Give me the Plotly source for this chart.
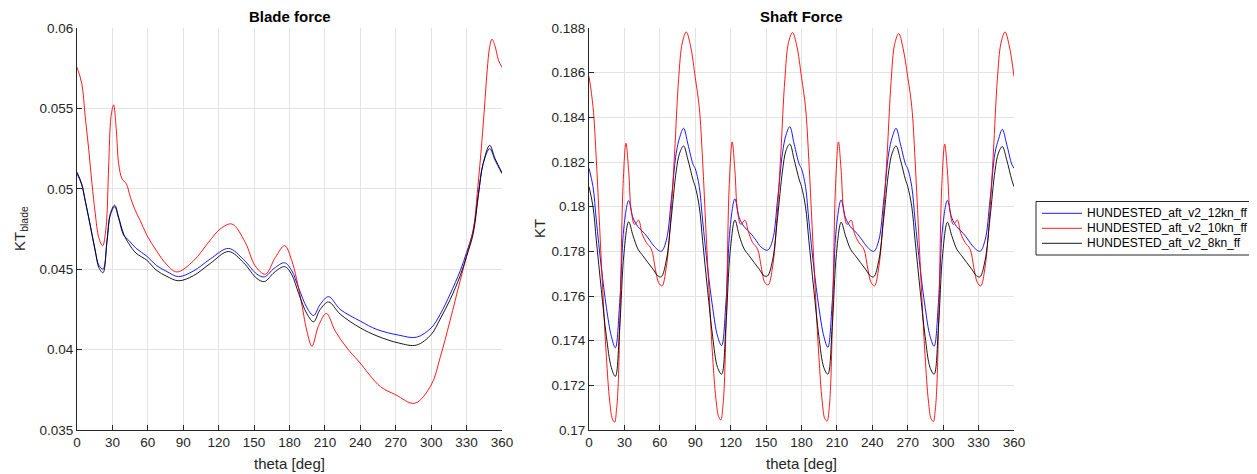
import plotly.graph_objects as go

# ---------------- data ----------------
series_names = ["HUNDESTED_aft_v2_12kn_ff", "HUNDESTED_aft_v2_10kn_ff", "HUNDESTED_aft_v2_8kn_ff"]
x_ticks = [0, 30, 60, 90, 120, 150, 180, 210, 240, 270, 300, 330, 360]
blade_y_ticks = [0.035, 0.04, 0.045, 0.05, 0.055, 0.06]
blade_y_ticktext = ["0.035", "0.04", "0.045", "0.05", "0.055", "0.06"]
shaft_y_ticks = [0.17, 0.172, 0.174, 0.176, 0.178, 0.18, 0.182, 0.184, 0.186, 0.188]
shaft_y_ticktext = ["0.17", "0.172", "0.174", "0.176", "0.178", "0.18", "0.182", "0.184", "0.186", "0.188"]

# Blade force
blade_theta_12kn = [0, 4, 7, 9.9, 12.7, 15.5, 18.5, 22, 25.4, 28.2, 31.9, 35.3, 39.5, 43.8, 50, 59.3, 67, 76.2, 86, 98.7,
                    112.8, 128.4, 141.1, 152.4, 158.7, 167.1, 175.9, 182, 187.7, 194.8, 200.4, 206, 213.1, 223, 240,
                    254.1, 272.5, 287.5, 300, 307.6, 316, 324.6, 330, 335.6, 340, 344, 349.6, 354, 360]
blade_kt_12kn = [0.05094, 0.05025, 0.04922, 0.04818, 0.04714, 0.0461, 0.04525, 0.0450, 0.04672, 0.04835,
                 0.04888, 0.04815, 0.04712, 0.0468, 0.0463, 0.0458, 0.04525, 0.04485, 0.04454, 0.04489,
                 0.04563, 0.04629, 0.0456, 0.04469, 0.04452, 0.04506, 0.0454, 0.0449, 0.04385, 0.0426,
                 0.04212, 0.04281, 0.04329, 0.0425, 0.04177, 0.04125, 0.0409, 0.04077, 0.04135, 0.04219,
                 0.04344, 0.0449, 0.04604, 0.0474, 0.0497, 0.05156, 0.0525, 0.0518, 0.05094]

blade_theta_10kn = [0, 4, 7, 10, 12.7, 15.5, 18.4, 21.7, 24.6, 26.8, 28.8, 31, 33.3, 35.3, 38.1, 41.8, 45.2, 49.4, 53.6,
                    59.3, 67.7, 76.2, 84.6, 98.7, 111.4, 121.3, 131.2, 142.5, 151, 159.5, 168, 175.9, 182, 189.3,
                    194.8, 199, 204.7, 211.2, 218.8, 228.7, 238.6, 257, 270, 286, 300, 307.6, 316, 324.6, 330, 336,
                    339, 342, 345, 347.5, 349.5, 351.5, 354, 357, 360]
blade_kt_10kn = [0.05756, 0.05656, 0.05448, 0.0524, 0.05031, 0.04844, 0.04698, 0.04646, 0.0476, 0.05135,
                 0.05448, 0.05521, 0.05365, 0.05156, 0.05063, 0.05031, 0.04948, 0.04865, 0.04802, 0.0471,
                 0.0461, 0.04527, 0.04483, 0.04552, 0.04667, 0.0475, 0.04781, 0.04667, 0.0452, 0.04469,
                 0.04573, 0.04646, 0.04552, 0.04323, 0.04114, 0.04021, 0.0415, 0.04225, 0.04114, 0.0401,
                 0.03927, 0.0377, 0.03719, 0.03666, 0.0378, 0.0395, 0.0418, 0.0443, 0.04583, 0.0476,
                 0.0497, 0.0521, 0.0549, 0.0574, 0.0588, 0.0593, 0.0589, 0.0580, 0.05756]

blade_theta_8kn = [0, 4, 7, 9.9, 12.7, 15.5, 18.5, 22, 25.4, 28.2, 31.9, 35.3, 39.5, 43.8, 50, 59.3, 67, 76.2, 86, 98.7,
                   112.8, 128.4, 141.1, 152.4, 158.7, 167.1, 175.9, 182, 187.7, 194.8, 200.4, 206, 213.1, 223, 240,
                   254.1, 272.5, 287.5, 300, 307.6, 316, 324.6, 330, 335.6, 340, 344, 349.6, 354, 360]
blade_kt_8kn = [0.05104, 0.0503, 0.04927, 0.04823, 0.04719, 0.04615, 0.0451, 0.04478, 0.04677, 0.04844,
                0.04898, 0.04823, 0.04719, 0.0466, 0.0460, 0.04555, 0.04495, 0.04455, 0.04428, 0.0446,
                0.04535, 0.0461, 0.0454, 0.04442, 0.04423, 0.0448, 0.04516, 0.04465, 0.0435, 0.04222,
                0.04173, 0.0425, 0.04296, 0.0422, 0.04135, 0.04085, 0.04041, 0.04028, 0.04094, 0.0419,
                0.0431, 0.0446, 0.0458, 0.0472, 0.0496, 0.05156, 0.0527, 0.0519, 0.0510]

# Shaft force
shaft_theta_12kn = [0, 3.4, 6.2, 10.4, 14.7, 18.9, 22.3, 26, 29.6, 33.6, 37.3, 41.5, 47.1, 51.4, 55.6, 61.2, 65.5, 69.7, 73.9, 76.8, 80.1, 83.8, 88.1,
                    90, 93.4, 96.2, 100.4, 104.7, 108.9, 112.3, 116, 119.6, 123.6, 127.3, 131.5, 137.1, 141.4, 145.6, 151.2, 155.5, 159.7, 163.9, 166.8, 170.1, 173.8, 178.1,
                    180, 183.4, 186.2, 190.4, 194.7, 198.9, 202.3, 206, 209.6, 213.6, 217.3, 221.5, 227.1, 231.4, 235.6, 241.2, 245.5, 249.7, 253.9, 256.8, 260.1, 263.8, 268.1,
                    270, 273.4, 276.2, 280.4, 284.7, 288.9, 292.3, 296, 299.6, 303.6, 307.3, 311.5, 317.1, 321.4, 325.6, 331.2, 335.5, 339.7, 343.9, 346.8, 350.1, 353.8, 358.1, 360]
shaft_kt_12kn = [0.18172, 0.1809, 0.1794, 0.1773, 0.1755, 0.1742, 0.17368, 0.1757, 0.1791, 0.18027, 0.1795, 0.1791, 0.1788, 0.1785, 0.1782, 0.1780, 0.1785, 0.1803, 0.1824, 0.1831, 0.18351, 0.1828, 0.1819,
                 0.18170, 0.1809, 0.1794, 0.1773, 0.1755, 0.1742, 0.17378, 0.1757, 0.1791, 0.18035, 0.1795, 0.1791, 0.1788, 0.1785, 0.1782, 0.17805, 0.1785, 0.1803, 0.1824, 0.1832, 0.18358, 0.1828, 0.1819,
                 0.1817, 0.1809, 0.1794, 0.1773, 0.1755, 0.1742, 0.1737, 0.1757, 0.1791, 0.1803, 0.1795, 0.1791, 0.1788, 0.1785, 0.1782, 0.1780, 0.1785, 0.1803, 0.1824, 0.1831, 0.18351, 0.1828, 0.1819,
                 0.1817, 0.1809, 0.1794, 0.1773, 0.1755, 0.1742, 0.17375, 0.1757, 0.1791, 0.18028, 0.1795, 0.1791, 0.1788, 0.1785, 0.1782, 0.1780, 0.1785, 0.1803, 0.1824, 0.1830, 0.18346, 0.1828, 0.1819, 0.18172]

shaft_theta_10kn = [0, 3.4, 6.2, 9, 11.9, 14.7, 17.5, 19.8, 21.7, 23.3, 24.6, 26.8, 28.8, 31.3, 33.6, 35.8, 38.7, 42, 44.9, 48.5, 52.8, 56.2, 59, 61.8, 65.5, 69.1, 72.5, 75.9, 79, 82.4, 86,
                    90, 93.4, 96.2, 99, 101.9, 104.7, 107.5, 109.8, 111.7, 113.3, 114.6, 116.8, 118.8, 121.3, 123.6, 125.8, 128.7, 132, 134.9, 138.5, 142.8, 146.2, 149, 151.8, 155.5, 159.1, 162.5, 165.9, 169, 172.4, 176,
                    180, 183.4, 186.2, 189, 191.9, 194.7, 197.5, 199.8, 201.7, 203.3, 204.6, 206.8, 208.8, 211.3, 213.6, 215.8, 218.7, 222, 224.9, 228.5, 232.8, 236.2, 239, 241.8, 245.5, 249.1, 252.5, 255.9, 259, 262.4, 266,
                    270, 273.4, 276.2, 279, 281.9, 284.7, 287.5, 289.8, 291.7, 293.3, 294.6, 296.8, 298.8, 301.3, 303.6, 305.8, 308.7, 312, 314.9, 318.5, 322.8, 326.2, 329, 331.8, 335.5, 339.1, 342.5, 345.9, 349, 352.4, 356, 360]
shaft_kt_10kn = [0.18583, 0.18448, 0.1821, 0.1791, 0.1760, 0.1733, 0.1713, 0.1705, 0.17035, 0.1709, 0.1719, 0.1764, 0.1809, 0.18284, 0.1816, 0.1798, 0.1792, 0.1794, 0.1788, 0.1784, 0.1781, 0.1772, 0.1766, 0.17645, 0.1773, 0.1794, 0.1824, 0.1857, 0.18733, 0.18782, 0.1872,
                 0.18578, 0.18445, 0.1821, 0.1790, 0.1760, 0.1733, 0.1714, 0.1706, 0.17045, 0.1710, 0.1720, 0.1765, 0.1810, 0.1829, 0.1816, 0.1798, 0.1792, 0.1794, 0.1789, 0.1784, 0.1781, 0.1772, 0.1766, 0.1765, 0.1773, 0.1794, 0.1824, 0.1857, 0.18735, 0.1878, 0.1872,
                 0.1858, 0.18445, 0.1821, 0.1791, 0.1760, 0.1733, 0.1713, 0.1705, 0.1704, 0.1709, 0.1719, 0.1764, 0.1809, 0.1829, 0.1816, 0.1798, 0.1792, 0.1794, 0.1788, 0.1784, 0.1781, 0.1772, 0.1766, 0.17645, 0.1773, 0.1794, 0.1823, 0.1856, 0.1873, 0.18775, 0.1871,
                 0.1858, 0.18448, 0.1821, 0.1791, 0.1760, 0.1733, 0.1713, 0.1705, 0.17038, 0.1709, 0.1719, 0.1764, 0.1809, 0.1828, 0.1816, 0.1798, 0.1792, 0.1794, 0.1788, 0.1784, 0.1781, 0.1772, 0.1766, 0.17645, 0.1773, 0.1794, 0.1824, 0.1857, 0.18733, 0.18782, 0.1872, 0.18583]

shaft_theta_8kn = [0, 3.4, 6.2, 10.4, 14.7, 18.9, 22.3, 26, 29.6, 33.6, 37.3, 41.5, 45.7, 49.9, 54.2, 58.4, 61.2, 65.5, 69.7, 73.9, 76.8, 80.1, 83.8, 88.1,
                   90, 93.4, 96.2, 100.4, 104.7, 108.9, 112.3, 116, 119.6, 123.6, 127.3, 131.5, 135.7, 139.9, 144.2, 148.4, 151.2, 155.5, 159.7, 163.9, 166.8, 170.1, 173.8, 178.1,
                   180, 183.4, 186.2, 190.4, 194.7, 198.9, 202.3, 206, 209.6, 213.6, 217.3, 221.5, 225.7, 229.9, 234.2, 238.4, 241.2, 245.5, 249.7, 253.9, 256.8, 260.1, 263.8, 268.1,
                   270, 273.4, 276.2, 280.4, 284.7, 288.9, 292.3, 296, 299.6, 303.6, 307.3, 311.5, 315.7, 319.9, 324.2, 328.4, 331.2, 335.5, 339.7, 343.9, 346.8, 350.1, 353.8, 358.1, 360]
shaft_kt_8kn = [0.1809, 0.1800, 0.1785, 0.1763, 0.1742, 0.1728, 0.1724, 0.1746, 0.1779, 0.17932, 0.1787, 0.1781, 0.1778, 0.1775, 0.1772, 0.1769, 0.17686, 0.1776, 0.1795, 0.1816, 0.1824, 0.18272, 0.1821, 0.1812,
                0.1809, 0.1800, 0.1785, 0.1763, 0.1742, 0.1728, 0.1725, 0.1747, 0.1780, 0.1794, 0.1787, 0.1781, 0.1778, 0.1775, 0.1772, 0.1769, 0.1769, 0.1776, 0.1795, 0.1816, 0.1825, 0.1828, 0.1821, 0.1812,
                0.1809, 0.1800, 0.1785, 0.1763, 0.1742, 0.1728, 0.1725, 0.1746, 0.1779, 0.1793, 0.1787, 0.1781, 0.1778, 0.1775, 0.1772, 0.1769, 0.17686, 0.1776, 0.1795, 0.1816, 0.1824, 0.18272, 0.1821, 0.1812,
                0.1809, 0.1800, 0.1785, 0.1763, 0.1742, 0.1728, 0.1725, 0.1746, 0.1779, 0.1793, 0.1787, 0.1781, 0.1778, 0.1775, 0.1772, 0.1769, 0.17686, 0.1776, 0.1795, 0.1816, 0.1824, 0.18269, 0.1821, 0.1812, 0.1809]

colors = ["#0000ff", "#ff0000", "#000000"]

# ---------------- figure ----------------
# The page body has an 8px margin, so the figure is laid out 8px smaller and
# every screen position below is shifted by that offset.
OFF = 8
W, H = 1257 - OFF, 474 - OFF
FONT = "Liberation Sans, Arial, Helvetica, sans-serif"
AX = "#262626"
GRID = "#e3e3e3"
LW = 0.9
TICK_SIZE = 13.5

def px_x(p):
    return (p - OFF) / W

def px_y(p):
    return (H - (p - OFF)) / H

fig = go.Figure()

blade = [(blade_theta_12kn, blade_kt_12kn), (blade_theta_10kn, blade_kt_10kn), (blade_theta_8kn, blade_kt_8kn)]
shaft = [(shaft_theta_12kn, shaft_kt_12kn), (shaft_theta_10kn, shaft_kt_10kn), (shaft_theta_8kn, shaft_kt_8kn)]

for i, (xs, ys) in enumerate(blade):
    fig.add_trace(go.Scatter(x=xs, y=ys, mode="lines", name=series_names[i],
                             line=dict(color=colors[i], width=LW, shape="spline", smoothing=1),
                             xaxis="x", yaxis="y", showlegend=False, hoverinfo="skip"))
for i, (xs, ys) in enumerate(shaft):
    fig.add_trace(go.Scatter(x=xs, y=ys, mode="lines", name=series_names[i],
                             line=dict(color=colors[i], width=LW, shape="spline", smoothing=1),
                             xaxis="x2", yaxis="y2", showlegend=False, hoverinfo="skip"))

y_dom = [px_y(430), px_y(28)]
common_x = dict(range=[0, 360], tickvals=x_ticks, ticktext=[str(t) for t in x_ticks],
                showline=True, linecolor=AX, linewidth=1, ticks="inside", ticklen=5, tickcolor=AX,
                showgrid=True, gridcolor=GRID, gridwidth=1, zeroline=False, automargin=False,
                tickfont=dict(family=FONT, size=TICK_SIZE, color=AX))
common_y = dict(showline=True, linecolor=AX, linewidth=1, ticks="inside", ticklen=5, tickcolor=AX,
                showgrid=True, gridcolor=GRID, gridwidth=1, zeroline=False, automargin=False,
                tickfont=dict(family=FONT, size=TICK_SIZE, color=AX))

fig.update_layout(
    width=W, height=H,
    paper_bgcolor="white", plot_bgcolor="white",
    margin=dict(l=0, r=0, t=0, b=0, autoexpand=False),
    font=dict(family=FONT, color=AX),
    xaxis=dict(domain=[px_x(77), px_x(502)], anchor="y", **common_x),
    yaxis=dict(domain=y_dom, anchor="x", range=[0.035, 0.06], tickvals=blade_y_ticks,
               ticktext=blade_y_ticktext, **common_y),
    xaxis2=dict(domain=[px_x(589), px_x(1014)], anchor="y2", **common_x),
    yaxis2=dict(domain=y_dom, anchor="x2", range=[0.17, 0.188], tickvals=shaft_y_ticks,
                ticktext=shaft_y_ticktext, **common_y),
    showlegend=False,
)

annots = [
    dict(text="<b>Blade force</b>", x=px_x(289.5), y=px_y(17), size=15, color="#000000", angle=0),
    dict(text="<b>Shaft Force</b>", x=px_x(801.5), y=px_y(17), size=15, color="#000000", angle=0),
    dict(text="theta [deg]", x=px_x(289.5), y=px_y(463), size=15, color=AX, angle=0),
    dict(text="theta [deg]", x=px_x(801.5), y=px_y(463), size=15, color=AX, angle=0),
    dict(text="KT<sub>blade</sub>", x=px_x(20), y=px_y(229), size=15, color=AX, angle=-90),
    dict(text="KT", x=px_x(539), y=px_y(229), size=15, color=AX, angle=-90),
]
for a in annots:
    fig.add_annotation(text=a["text"], x=a["x"], y=a["y"], xref="paper", yref="paper",
                       xanchor="center", yanchor="middle", showarrow=False, textangle=a["angle"],
                       font=dict(family=FONT, size=a["size"], color=a["color"]))

# Legend box (drawn as shapes + text, MATLAB style)
fig.add_shape(type="rect", xref="paper", yref="paper",
              x0=px_x(1036), x1=px_x(1252), y0=px_y(255), y1=px_y(201.5),
              line=dict(color=AX, width=1), fillcolor="white", layer="above")
leg_rows = [213.3, 228.3, 243.3]
for i, yy in enumerate(leg_rows):
    fig.add_shape(type="line", xref="paper", yref="paper",
                  x0=px_x(1042), x1=px_x(1082), y0=px_y(yy), y1=px_y(yy),
                  line=dict(color=colors[i], width=LW), layer="above")
    fig.add_annotation(text=series_names[i], x=px_x(1085), y=px_y(yy), xref="paper", yref="paper",
                       xanchor="left", yanchor="middle", showarrow=False,
                       font=dict(family=FONT, size=12, color="#000000"))

fig.write_html("out.html")
